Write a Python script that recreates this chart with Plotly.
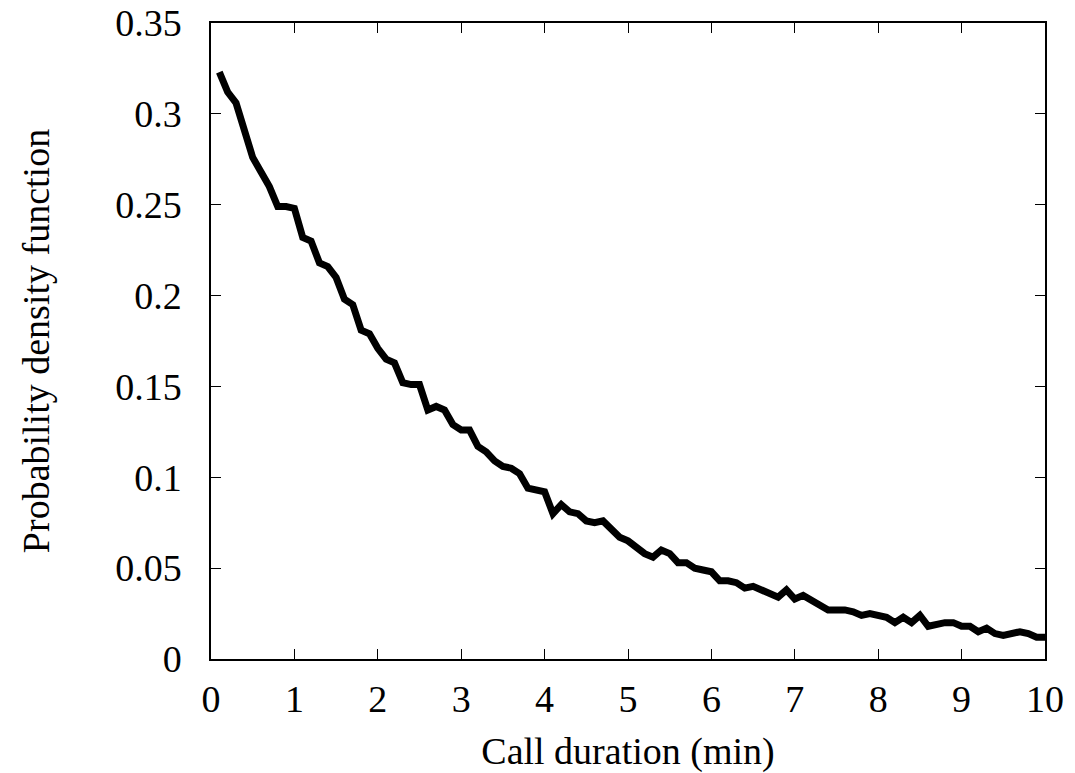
import plotly.graph_objects as go

duration = [round(0.1 * i, 1) for i in range(1, 101)]
pdf = [
    0.323, 0.312, 0.306, 0.291, 0.276, 0.268, 0.260, 0.249, 0.249, 0.248,
    0.232, 0.230, 0.218, 0.216, 0.210, 0.198, 0.195, 0.181, 0.179, 0.171,
    0.165, 0.163, 0.152, 0.151, 0.151, 0.137, 0.139, 0.137, 0.129, 0.126,
    0.126, 0.117, 0.114, 0.109, 0.106, 0.105, 0.102, 0.094, 0.093, 0.092,
    0.080, 0.085, 0.081, 0.080, 0.076, 0.075, 0.076, 0.071, 0.067, 0.065,
    0.061, 0.058, 0.056, 0.060, 0.058, 0.053, 0.053, 0.050, 0.049, 0.048,
    0.043, 0.043, 0.042, 0.039, 0.040, 0.038, 0.036, 0.034, 0.038, 0.033,
    0.035, 0.032, 0.030, 0.027, 0.027, 0.027, 0.026, 0.024, 0.025, 0.024,
    0.023, 0.020, 0.023, 0.020, 0.024, 0.018, 0.019, 0.020, 0.020, 0.018,
    0.018, 0.015, 0.017, 0.014, 0.013, 0.014, 0.015, 0.014, 0.012, 0.012,
]
x_ticks = list(range(0, 11))
y_ticks = [0, 0.05, 0.1, 0.15, 0.2, 0.25, 0.3, 0.35]
y_tick_text = ["0", "0.05", "0.1", "0.15", "0.2", "0.25", "0.3", "0.35"]

fig = go.Figure()
fig.add_trace(go.Scatter(x=duration, y=pdf, mode="lines",
                         line=dict(color="black", width=7), showlegend=False))

font = dict(family="Liberation Serif, Times New Roman, serif", size=38, color="black")
axis_common = dict(showline=True, linecolor="black", linewidth=1.5, mirror="ticks",
                   ticks="inside", ticklen=10, tickwidth=1.2, tickcolor="black",
                   showgrid=False, zeroline=False, tickfont=font,
                   automargin=False, ticklabeloverflow="allow")

fig.update_layout(
    width=1075, height=773,
    margin=dict(l=211, r=30, t=23, b=114),
    plot_bgcolor="white", paper_bgcolor="white",
    font=font,
    xaxis=dict(range=[0, 10], tickvals=x_ticks, ticklabelstandoff=6,
               title=dict(text="Call duration (min)", font=font, standoff=28),
               **axis_common),
    yaxis=dict(range=[0, 0.35], tickvals=y_ticks, ticktext=y_tick_text,
               ticklabelstandoff=20,
               title=dict(text="Probability density function", font=font, standoff=54),
               **axis_common),
)
fig.write_html("out.html", config={"displayModeBar": False},
               post_script="document.body.style.margin='0px';document.body.style.overflow='hidden';")
